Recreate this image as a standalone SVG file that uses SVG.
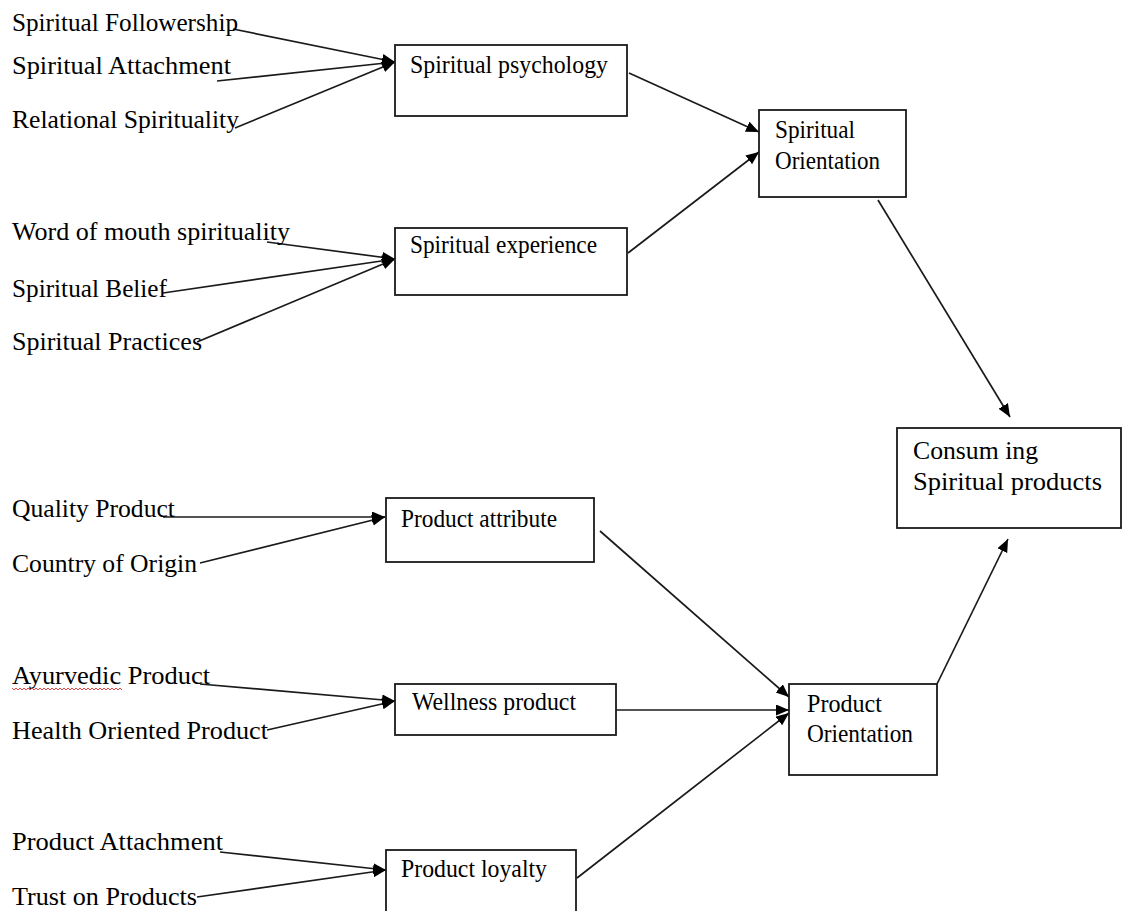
<svg xmlns="http://www.w3.org/2000/svg" width="1122" height="911" viewBox="0 0 1122 911">
<style>
  .lbl { font-family: "Liberation Serif", "Times New Roman", serif; font-size: 25px; fill: #000; }
  .box rect { fill: #fff; stroke: #1a1a1a; stroke-width: 1.8; }
  .conn line { stroke: #1a1a1a; stroke-width: 1.7; marker-end: url(#ah); }
</style>
<defs>
  <marker id="ah" markerUnits="userSpaceOnUse" markerWidth="15" markerHeight="12" refX="13" refY="5.5" orient="auto">
    <path d="M0,0 L13,5.5 L0,11 z" fill="#000"/>
  </marker>
</defs>
<rect x="0" y="0" width="1122" height="911" fill="#fff"/>

<g id="connectors" class="conn">
  <line x1="233" y1="29" x2="395" y2="62"/>
  <line x1="217" y1="81" x2="395" y2="62"/>
  <line x1="235" y1="128" x2="395" y2="62"/>
  <line x1="267" y1="242" x2="395" y2="259"/>
  <line x1="163" y1="293" x2="395" y2="259"/>
  <line x1="197" y1="342" x2="395" y2="259"/>
  <line x1="629" y1="73" x2="759" y2="132"/>
  <line x1="628" y1="253" x2="759" y2="152"/>
  <line x1="878" y1="200" x2="1010" y2="417"/>
  <line x1="163" y1="517" x2="385" y2="517"/>
  <line x1="200" y1="563" x2="385" y2="517"/>
  <line x1="200" y1="684" x2="395" y2="701"/>
  <line x1="267" y1="730" x2="395" y2="701"/>
  <line x1="220" y1="852" x2="386" y2="870"/>
  <line x1="197" y1="897" x2="386" y2="870"/>
  <line x1="600" y1="531" x2="789" y2="697"/>
  <line x1="616" y1="710" x2="789" y2="710"/>
  <line x1="577" y1="878" x2="789" y2="713"/>
  <line x1="937" y1="684" x2="1008" y2="539"/>
</g>

<g id="label-spiritual-followership"><text class="lbl" x="12" y="31" textLength="226" lengthAdjust="spacingAndGlyphs">Spiritual Followership</text></g>
<g id="label-spiritual-attachment"><text class="lbl" x="12" y="74" textLength="219" lengthAdjust="spacingAndGlyphs">Spiritual Attachment</text></g>
<g id="label-relational-spirituality"><text class="lbl" x="12" y="128" textLength="227" lengthAdjust="spacingAndGlyphs">Relational Spirituality</text></g>
<g id="label-word-of-mouth"><text class="lbl" x="12" y="240" textLength="278" lengthAdjust="spacingAndGlyphs">Word of mouth spirituality</text></g>
<g id="label-spiritual-belief"><text class="lbl" x="12" y="297" textLength="155" lengthAdjust="spacingAndGlyphs">Spiritual Belief</text></g>
<g id="label-spiritual-practices"><text class="lbl" x="12" y="350" textLength="190" lengthAdjust="spacingAndGlyphs">Spiritual Practices</text></g>
<g id="label-quality-product"><text class="lbl" x="12" y="517" textLength="163" lengthAdjust="spacingAndGlyphs">Quality Product</text></g>
<g id="label-country-of-origin"><text class="lbl" x="12" y="572" textLength="185" lengthAdjust="spacingAndGlyphs">Country of Origin</text></g>
<g id="label-ayurvedic-product"><text class="lbl" x="12" y="684" textLength="198" lengthAdjust="spacingAndGlyphs">Ayurvedic Product</text>
  <path d="M12,688 l2,2 l2,-2 l2,2 l2,-2 l2,2 l2,-2 l2,2 l2,-2 l2,2 l2,-2 l2,2 l2,-2 l2,2 l2,-2 l2,2 l2,-2 l2,2 l2,-2 l2,2 l2,-2 l2,2 l2,-2 l2,2 l2,-2 l2,2 l2,-2 l2,2 l2,-2 l2,2 l2,-2 l2,2 l2,-2 l2,2 l2,-2 l2,2 l2,-2 l2,2 l2,-2 l2,2 l2,-2 l2,2 l2,-2 l2,2 l2,-2 l2,2 l2,-2 l2,2 l2,-2 l2,2 l2,-2 l2,2 l2,-2 l2,2 l2,-2 l2,2" fill="none" stroke="#e03030" stroke-width="0.9"/>
</g>
<g id="label-health-oriented-product"><text class="lbl" x="12" y="739" textLength="256" lengthAdjust="spacingAndGlyphs">Health Oriented Product</text></g>
<g id="label-product-attachment"><text class="lbl" x="12" y="850" textLength="211" lengthAdjust="spacingAndGlyphs">Product Attachment</text></g>
<g id="label-trust-on-products"><text class="lbl" x="12" y="905" textLength="185" lengthAdjust="spacingAndGlyphs">Trust on Products</text></g>

<g id="node-spiritual-psychology" class="box">
  <rect x="395" y="45" width="232" height="71"/>
  <text class="lbl" x="410" y="73" textLength="198" lengthAdjust="spacingAndGlyphs">Spiritual psychology</text>
</g>
<g id="node-spiritual-experience" class="box">
  <rect x="395" y="228" width="232" height="67"/>
  <text class="lbl" x="410" y="253" textLength="187" lengthAdjust="spacingAndGlyphs">Spiritual experience</text>
</g>
<g id="node-spiritual-orientation" class="box">
  <rect x="759" y="110" width="147" height="87"/>
  <text class="lbl" x="775" y="138" textLength="80" lengthAdjust="spacingAndGlyphs">Spiritual</text>
  <text class="lbl" x="775" y="169" textLength="105" lengthAdjust="spacingAndGlyphs">Orientation</text>
</g>
<g id="node-consuming-spiritual-products" class="box">
  <rect x="897" y="428" width="224" height="100"/>
  <text class="lbl" x="913" y="459" textLength="125" lengthAdjust="spacingAndGlyphs">Consum ing</text>
  <text class="lbl" x="913" y="490" textLength="189" lengthAdjust="spacingAndGlyphs">Spiritual products</text>
</g>
<g id="node-product-attribute" class="box">
  <rect x="386" y="498" width="208" height="64"/>
  <text class="lbl" x="401" y="527" textLength="156" lengthAdjust="spacingAndGlyphs">Product attribute</text>
</g>
<g id="node-wellness-product" class="box">
  <rect x="395" y="684" width="221" height="51"/>
  <text class="lbl" x="412" y="710" textLength="164" lengthAdjust="spacingAndGlyphs">Wellness product</text>
</g>
<g id="node-product-loyalty" class="box">
  <rect x="386" y="850" width="190" height="75"/>
  <text class="lbl" x="401" y="877" textLength="146" lengthAdjust="spacingAndGlyphs">Product loyalty</text>
</g>
<g id="node-product-orientation" class="box">
  <rect x="789" y="684" width="148" height="91"/>
  <text class="lbl" x="807" y="712" textLength="75" lengthAdjust="spacingAndGlyphs">Product</text>
  <text class="lbl" x="807" y="742" textLength="106" lengthAdjust="spacingAndGlyphs">Orientation</text>
</g>
</svg>
